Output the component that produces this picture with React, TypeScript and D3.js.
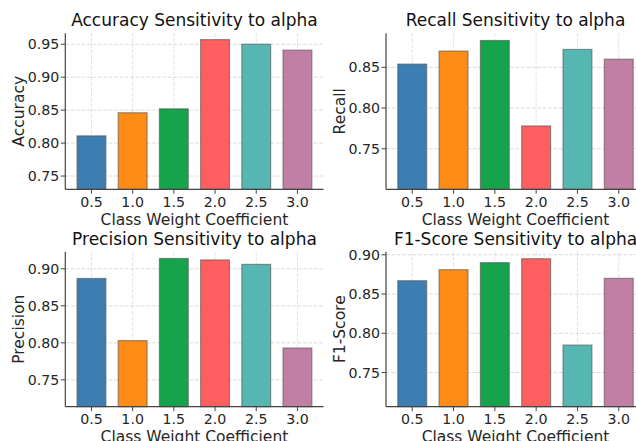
import * as d3 from "d3";

const alphas = ["0.5", "1.0", "1.5", "2.0", "2.5", "3.0"];
const barColors = ["#3c7eb1", "#ff8c16", "#15a34b", "#ff5f5f", "#56b7b2", "#c17fa3"];

const accuracy = [0.811, 0.846, 0.852, 0.957, 0.950, 0.941];
const recall = [0.854, 0.870, 0.883, 0.778, 0.872, 0.860];
const precision = [0.887, 0.803, 0.914, 0.912, 0.906, 0.793];
const f1Score = [0.867, 0.881, 0.890, 0.895, 0.785, 0.870];

const accuracyTicks = [0.75, 0.8, 0.85, 0.9, 0.95];
const recallTicks = [0.75, 0.8, 0.85];
const precisionTicks = [0.75, 0.8, 0.85, 0.9];
const f1Ticks = [0.75, 0.8, 0.85, 0.9];

const panels = [
  { name: "Accuracy", values: accuracy, ticks: accuracyTicks, col: 0, row: 0 },
  { name: "Recall", values: recall, ticks: recallTicks, col: 1, row: 0 },
  { name: "Precision", values: precision, ticks: precisionTicks, col: 0, row: 1 },
  { name: "F1-Score", values: f1Score, ticks: f1Ticks, col: 1, row: 1 },
];

const W = 636, H = 441;
const colLeft = [65.3, 386], colRight = [323.6, 645];
const rowTop = [33.3, 251.7], rowBottom = [189.3, 406.7];
const font = "DejaVu Sans, sans-serif";
const ink = "#262626";
const spine = "#444";

const Panel = ({ p }: { p: typeof panels[number] }) => {
  const left = colLeft[p.col], right = colRight[p.col];
  const top = rowTop[p.row], bottom = rowBottom[p.row];

  const x = d3.scaleBand<string>().domain(alphas).range([left, right]).paddingInner(0.3).paddingOuter(0.285);
  const y = d3.scaleLinear()
    .domain([d3.min(p.values)! * 0.9, d3.max(p.values)! * 1.01])
    .range([bottom, top]);
  const cx = (a: string) => x(a)! + x.bandwidth() / 2;

  return (
    <g>
      {/* grid */}
      {p.ticks.map(t => (
        <line key={"gy" + t} x1={left} x2={right} y1={y(t)} y2={y(t)}
          stroke="#b0b0b0" strokeOpacity={0.45} strokeDasharray="3.8 1.6" />
      ))}
      {alphas.map(a => (
        <line key={"gx" + a} x1={cx(a)} x2={cx(a)} y1={top} y2={bottom}
          stroke="#b0b0b0" strokeOpacity={0.35} strokeDasharray="3.8 1.6" />
      ))}

      {/* bars */}
      {p.values.map((v, i) => (
        <rect key={i} x={x(alphas[i])} y={y(v)} width={x.bandwidth()} height={bottom - y(v)}
          fill={barColors[i]} stroke="#555" strokeOpacity={0.6} strokeWidth={1.2} />
      ))}

      {/* spines */}
      <line x1={left} x2={left} y1={top} y2={bottom} stroke={spine} strokeWidth={1.2} />
      <line x1={left} x2={right} y1={bottom} y2={bottom} stroke={spine} strokeWidth={1.2} />

      {/* x ticks */}
      {alphas.map(a => (
        <g key={"xt" + a}>
          <line x1={cx(a)} x2={cx(a)} y1={bottom} y2={bottom + 4.5} stroke={spine} />
          <text x={cx(a)} y={bottom + 17.4} textAnchor="middle" fontSize={14.2} fill={ink}>{a}</text>
        </g>
      ))}

      {/* y ticks */}
      {p.ticks.map(t => (
        <g key={"yt" + t}>
          <line x1={left - 4.5} x2={left} y1={y(t)} y2={y(t)} stroke={spine} />
          <text x={left - 6} y={y(t)} dy="0.36em" textAnchor="end" fontSize={14.2} fill={ink}>
            {d3.format(".2f")(t)}
          </text>
        </g>
      ))}

      <text x={(left + right) / 2} y={bottom + 35.7} textAnchor="middle" fontSize={15.5} fill={ink}>
        Class Weight Coefficient
      </text>
      <text transform={`translate(${left - 41},${(top + bottom) / 2}) rotate(-90)`}
        textAnchor="middle" fontSize={15.5} fill={ink}>
        {p.name}
      </text>
      <text x={(left + right) / 2} y={top - 7} textAnchor="middle" fontSize={17} fill="#111">
        {p.name} Sensitivity to alpha
      </text>
    </g>
  );
};

const App = () => (
  <svg width={W} height={H} fontFamily={font}
    style={{ position: "absolute", left: 0, top: 0, background: "#fff" }}>
    <rect width={W} height={H} fill="#fff" />
    {panels.map(p => <Panel key={p.name} p={p} />)}
  </svg>
);

export default App;
